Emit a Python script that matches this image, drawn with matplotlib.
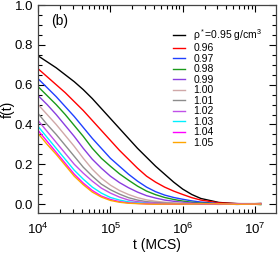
import numpy as np
import matplotlib
matplotlib.use("Agg")
import matplotlib.pyplot as plt
from matplotlib.ticker import MultipleLocator, LogLocator, NullFormatter

plt.rcParams['font.family'] = ['Liberation Sans', 'DejaVu Sans']
plt.rcParams['mathtext.fontset'] = 'custom'
plt.rcParams['mathtext.rm'] = 'Liberation Sans'
plt.rcParams['mathtext.it'] = 'Liberation Sans:italic'

# log10 of time (MCS) where the curves were read
log_t = [4.0, 4.125, 4.25, 4.375, 4.5, 4.625, 4.75, 4.875, 5.0, 5.125, 5.25, 5.375,
         5.5, 5.625, 5.75, 5.875, 6.0, 6.125, 6.25, 6.5, 6.75, 7.0, 7.08]
t = [10 ** v for v in log_t]

# f(t) for each density
f_095 = [.745, .715, .685, .65, .615, .575, .53, .48, .43, .38, .33, .28, .235, .19, .15, .11,
         .075, .048, .028, .008, .002, .002, .003]
f_096 = [.68, .64, .60, .56, .515, .47, .42, .37, .32, .27, .225, .18, .14, .11, .085, .065,
         .048, .032, .02, .006, .002, .001, .002]
f_097 = [.63, .585, .54, .49, .44, .385, .33, .28, .23, .19, .15, .115, .085, .062, .045, .033,
         .024, .016, .01, .002, -.002, .001, 0]
f_098 = [.59, .545, .50, .45, .395, .34, .28, .23, .19, .152, .12, .09, .065, .047, .033, .023,
         .015, .009, .005, .001, .002, -.001, -.003]
f_099 = [.545, .50, .45, .395, .34, .28, .225, .18, .14, .108, .082, .06, .042, .03, .02, .014,
         .009, .005, .003, 0, .002, 0, .001]
f_100 = [.50, .45, .40, .345, .29, .23, .175, .13, .095, .068, .048, .032, .021, .014, .009, .006,
         .004, .002, .001, -.002, .001, 0, .001]
f_101 = [.455, .40, .35, .295, .24, .185, .14, .10, .072, .05, .032, .02, .012, .008, .005, .003,
         .001, 0, 0, .002, -.001, 0, 0]
f_102 = [.42, .365, .31, .255, .20, .155, .115, .08, .055, .035, .02, .012, .007, .004, .002, .001,
         0, .001, .001, 0, .001, -.001, 0]
f_103 = [.39, .335, .28, .225, .17, .125, .085, .055, .033, .02, .011, .006, .003, .001, 0, 0,
         .001, 0, 0, -.001, 0, .001, 0]
f_104 = [.37, .315, .26, .205, .15, .105, .068, .04, .023, .012, .006, .003, .001, 0, 0, -.001,
         0, .001, 0, 0, 0, 0, .001]
f_105 = [.355, .30, .25, .195, .14, .097, .06, .035, .018, .009, .004, .002, 0, -.001, 0, 0,
         0, 0, .001, .001, -.001, 0, 0]

series = [f_095, f_096, f_097, f_098, f_099, f_100, f_101, f_102, f_103, f_104, f_105]
labels = ['ρ$^*$=0.95 g/cm$^3$', '0.96', '0.97', '0.98', '0.99', '1.00',
          '1.01', '1.02', '1.03', '1.04', '1.05']
colors = ['black', '#ff0000', '#2040ff', '#1a9a1a', '#8a3ee0', '#d0a8a8',
          '#8c8c8c', '#c050e8', '#00f0ff', '#ff00ff', '#ffa500']

fig = plt.figure(figsize=(2.78, 2.56), dpi=100)
ax = fig.add_axes([0.137, 0.168, 0.856, 0.812])

for y, lab, c in zip(series, labels, colors):
    ax.plot(t, y, color=c, lw=1.0, label=lab)

ax.set_xscale('log')
ax.set_xlim(1e4, 1.95e7)
ax.set_ylim(-0.045, 1.0)
ax.yaxis.set_major_locator(MultipleLocator(0.2))
ax.yaxis.set_minor_locator(MultipleLocator(0.05))
ax.xaxis.set_major_locator(LogLocator(base=10, numticks=10))
ax.xaxis.set_minor_locator(LogLocator(base=10, subs=np.arange(2, 10), numticks=20))
ax.xaxis.set_minor_formatter(NullFormatter())

ax.tick_params(which='both', direction='in', top=True, right=True, labelsize=9.5)
ax.tick_params(which='major', length=5, width=0.8)
ax.tick_params(which='minor', length=3, width=0.8)
ax.tick_params(axis='x', which='major', pad=6)
for s in ax.spines.values():
    s.set_linewidth(0.9)
    s.set_color('#444444')

ax.set_xlabel('t (MCS)', fontsize=10, labelpad=1)
ax.set_ylabel('f(t)', fontsize=10)
ax.yaxis.set_label_coords(-0.10, 0.5)
ax.text(0.055, 0.905, '(b)', transform=ax.transAxes, fontsize=10)

leg = ax.legend(loc='upper left', bbox_to_anchor=(0.567, 0.895), frameon=False,
                fontsize=7.5, handlelength=1.15, handletextpad=0.8,
                labelspacing=0.05, borderpad=0.0, borderaxespad=0.0)

fig.savefig('out.png', dpi=100)
